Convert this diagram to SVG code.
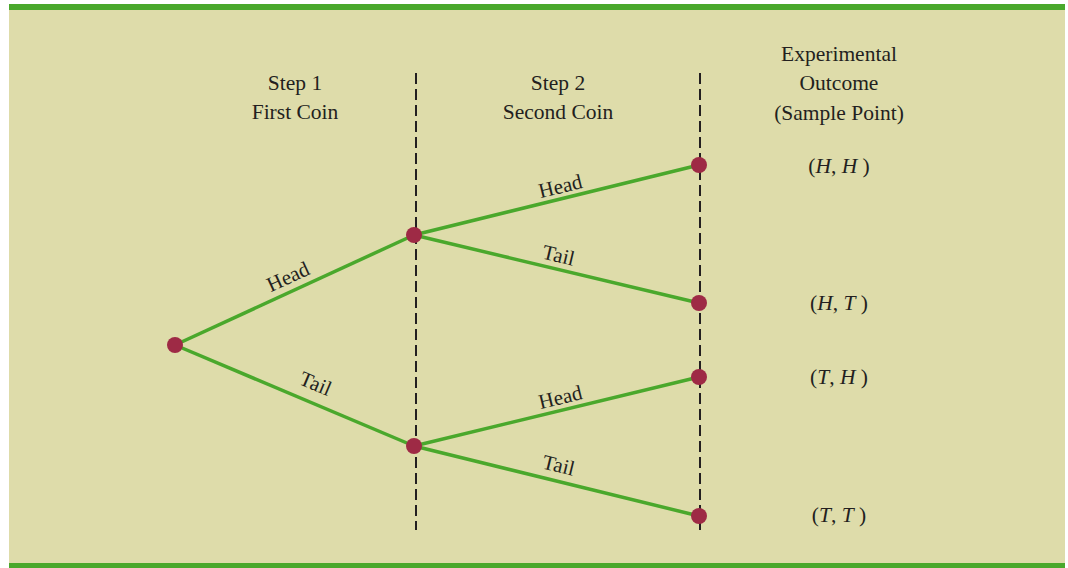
<svg xmlns="http://www.w3.org/2000/svg" width="1068" height="568" viewBox="0 0 1068 568">
<style>
.t{font-family:"Liberation Serif","Times New Roman",serif;font-size:21.5px;fill:#231f20;text-anchor:middle}
.b{font-size:21px}
.i{font-style:italic}
.e{stroke:#4aa82c;stroke-width:3.5;fill:none}
.d{stroke:#231f20;stroke-width:2;stroke-dasharray:11 5;fill:none}
.n{fill:#9e2a45}
</style>
<rect x="0" y="0" width="1068" height="568" fill="#ffffff"/>
<rect x="9" y="4" width="1056" height="564" fill="#dedcaa"/>
<rect x="9" y="4" width="1056" height="6" fill="#4aa82c"/>
<rect x="9" y="563" width="1056" height="5" fill="#4aa82c"/>
<g id="headers">
<text class="t" x="295" y="90">Step 1</text>
<text class="t" x="295" y="119">First Coin</text>
<text class="t" x="558" y="90">Step 2</text>
<text class="t" x="558" y="119">Second Coin</text>
<text class="t" x="839" y="61">Experimental</text>
<text class="t" x="839" y="90">Outcome</text>
<text class="t" x="839" y="120">(Sample Point)</text>
</g>
<g id="dividers">
<line class="d" x1="416" y1="73" x2="416" y2="530"/>
<line class="d" x1="700" y1="73" x2="700" y2="530"/>
</g>
<g id="connectors">
<line class="e" x1="175" y1="345" x2="414" y2="235"/>
<line class="e" x1="175" y1="345" x2="414" y2="446"/>
<line class="e" x1="414" y1="235" x2="699" y2="165"/>
<line class="e" x1="414" y1="235" x2="699" y2="303"/>
<line class="e" x1="414" y1="446" x2="699" y2="377"/>
<line class="e" x1="414" y1="446" x2="699" y2="516"/>
<text class="t b" transform="translate(291,283) rotate(-24.7)">Head</text>
<text class="t b" transform="translate(313,390) rotate(22.9)">Tail</text>
<text class="t b" transform="translate(562,193) rotate(-13.8)">Head</text>
<text class="t b" transform="translate(557,262) rotate(13.4)">Tail</text>
<text class="t b" transform="translate(562,404) rotate(-13.6)">Head</text>
<text class="t b" transform="translate(557,472) rotate(13.8)">Tail</text>
</g>
<g id="root"><circle class="n" cx="175" cy="345" r="8"/></g>
<g id="h"><circle class="n" cx="414" cy="235" r="8"/></g>
<g id="t"><circle class="n" cx="414" cy="446" r="8"/></g>
<g id="hh"><circle class="n" cx="699" cy="165" r="8"/><text class="t" x="839" y="173">(<tspan class="i">H</tspan>, <tspan class="i">H</tspan> )</text></g>
<g id="ht"><circle class="n" cx="699" cy="303" r="8"/><text class="t" x="839" y="310">(<tspan class="i">H</tspan>, <tspan class="i">T</tspan> )</text></g>
<g id="th"><circle class="n" cx="699" cy="377" r="8"/><text class="t" x="839" y="384">(<tspan class="i">T</tspan>, <tspan class="i">H</tspan> )</text></g>
<g id="tt"><circle class="n" cx="699" cy="516" r="8"/><text class="t" x="839" y="522">(<tspan class="i">T</tspan>, <tspan class="i">T</tspan> )</text></g>
</svg>
